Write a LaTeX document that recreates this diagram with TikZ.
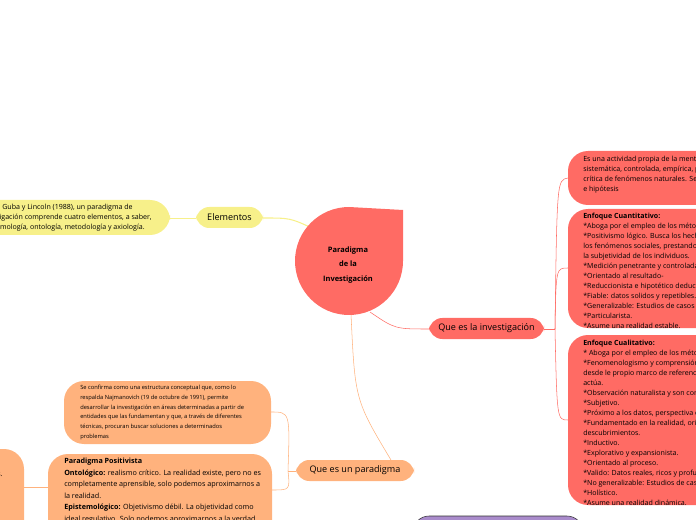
\documentclass[tikz,border=0pt]{standalone}
\usepackage{fontspec}
\setmainfont{Open Sans}
\definecolor{red1}{HTML}{FF6B64}
\definecolor{ora}{HTML}{FFB27D}
\definecolor{yel}{HTML}{F7F08A}
\definecolor{pur}{HTML}{A98BCB}
\begin{document}
\begin{tikzpicture}[x=0.75pt,y=-0.75pt,
  rtext/.style={anchor=north west,align=left,inner sep=0pt,font=\fontsize{5.3}{7.5}\selectfont},
  lbl/.style={font=\fontsize{6.8}{8}\selectfont,inner sep=0pt}]
\useasboundingbox (0,0) rectangle (696,520);
\clip (0,0) rectangle (696,520);
% connectors
\coordinate (cE) at (312,228);
\coordinate (cI) at (370,312);
\coordinate (cP) at (351,314);
\draw[yel,thick] (cE) .. controls (290,218) .. (263,218);
\draw[red1] (cI) .. controls (395,329) .. (429,329);
\draw[ora] (cP) .. controls (355,400) .. (391,460);
\draw[red1] (544,329) -- (555,329);
\draw[red1] (555,329) .. controls (557,180) .. (568,178);
\draw[red1] (555,329) .. controls (556,268) .. (568,268);
\draw[red1] (555,329) .. controls (557,420) .. (568,420);
\draw[ora] (296,471) -- (288,471);
\draw[ora] (288,471) .. controls (290,412) .. (271,412);
\draw[ora] (288,471) .. controls (290,490) .. (272,490);
\draw[ora] (48,487) -- (24,487);
\draw[yel] (196,218) -- (170,218);
% centre
\fill[red1] (403,210) -- (403,261) arc (0:270:54) -- cycle;
\node[align=center,font=\bfseries\fontsize{5.6}{11}\selectfont] (c) at (348,265) {Paradigma\\de la\\Investigación};
% yellow
\fill[yel,rounded corners=10] (196,207) rectangle (263,228);
\node[lbl] (el) at (229.5,217.5) {Elementos};
\fill[yel,rounded corners=15] (-30,200) rectangle (170,235);
\node[rtext,anchor=north east] (g) at (152,204) {Según Guba y Lincoln  (1988), un paradigma de\\investigación comprende cuatro elementos, a saber,\\epistemología, ontología, metodología y axiología.};
% investigación
\fill[red1,rounded corners=10] (429,318) rectangle (544,339);
\node[lbl] (qi) at (486.5,328.5) {Que es la investigación};
\fill[red1,rounded corners=15] (568,151) rectangle (720,205);
\node[rtext] (r1) at (583,156) {Es una actividad propia de la mente humana,\\sistemática, controlada, empírica, pública y\\crítica de fenómenos naturales. Se guía por teorías\\e hipótesis};
\fill[red1,rounded corners=15] (568,209) rectangle (720,328);
\node[rtext] (r2) at (583,213) {\textbf{Enfoque Cuantitativo:}\\*Aboga por el empleo de los métodos cuantitativos.\\*Positivismo lógico. Busca los hechos o causas de\\los fenómenos sociales, prestando escasa atención a\\la subjetividad de los individuos.\\*Medición penetrante y controlada.\\*Orientado al resultado-\\*Reduccionista e hipotético deductivo.\\*Fiable: datos solidos y repetibles.\\*Generalizable: Estudios de casos múltiples.\\*Particularista.\\*Asume una realidad estable.};
\fill[red1,rounded corners=15] (568,335) rectangle (720,505);
\node[rtext] (r3) at (583,340) {\textbf{Enfoque Cualitativo:}\\* Aboga por el empleo de los métodos cualitativos.\\*Fenomenologismo y comprensión de la conducta humana\\desde le propio marco de referencia de quien\\actúa.\\*Observación naturalista y son control.\\*Subjetivo.\\*Próximo a los datos, perspectiva desde dentro.\\*Fundamentado en la realidad, orientado a los\\descubrimientos.\\*Inductivo.\\*Explorativo y expansionista.\\*Orientado al proceso.\\*Valido: Datos reales, ricos y profundos.\\*No generalizable: Estudios de casos aislados.\\*Holístico.\\*Asume una realidad dinámica.};
\filldraw[fill=pur,draw=black!80,rounded corners=12] (413,516) rectangle (583,560);
% paradigma
\fill[ora,rounded corners=10] (296,460) rectangle (414,481);
\node[lbl] (qp) at (355,470.5) {Que es un paradigma};
\fill[ora,rounded corners=15] (64,381) rectangle (271,444);
\node[rtext,font=\fontsize{4.3}{7.3}\selectfont] (p1) at (80,385) {Se confirma como una estructura conceptual que, como lo\\ respalda Najmanovich (19 de octubre de 1991), permite\\desarrollar la investigación en áreas determinadas a partir de\\entidades que las fundamentan y que, a través de diferentes\\técnicas, procuran buscar soluciones a determinados\\problemas};
\fill[ora,rounded corners=15] (48,454) rectangle (272,560);
\node[rtext,font=\fontsize{5.4}{8.6}\selectfont] (p2) at (64,458) {\textbf{Paradigma Positivista}\\\textbf{Ontológico:} realismo crítico. La realidad existe, pero no es\\completamente aprensible, solo podemos aproximarnos a\\la realidad.\\\textbf{Epistemológico:} Objetivismo débil. La objetividad como\\ideal regulativo. Solo podemos aproximarnos a la verdad.\\\textbf{Metodológico:} Es experimental y manipulativo; Persigue};
\fill[ora,rounded corners=15] (-40,449) rectangle (24,560);
\node[rtext] (p3) at (-3,472) {s.};
\end{tikzpicture}
\end{document}
